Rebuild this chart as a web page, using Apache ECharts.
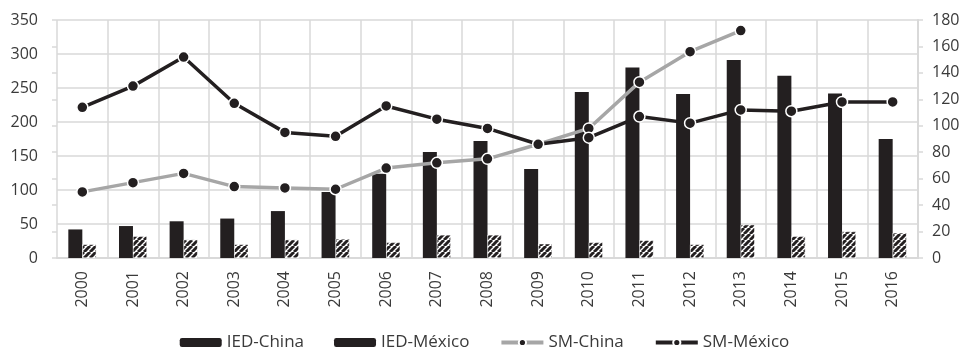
<!DOCTYPE html>
<html>
<head>
<meta charset="utf-8">
<script src="https://cdn.jsdelivr.net/npm/echarts@6/dist/echarts.min.js"></script>
<style>
  html, body { margin: 0; padding: 0; background: #fff; }
  #chart { width: 969px; height: 352px; }
</style>
</head>
<body>
<div id="chart"></div>
<script>
const years = ['2000', '2001', '2002', '2003', '2004', '2005', '2006', '2007', '2008',
  '2009', '2010', '2011', '2012', '2013', '2014', '2015', '2016'];
const iedChina = [42, 47, 54, 58, 69, 97, 124, 156, 172, 131, 244, 280, 241, 291, 268, 242, 175];
const iedMexico = [20, 32, 27, 20, 27, 28, 23, 34, 34, 21, 23, 26, 20, 49, 32, 39, 37];
const smChina = [50, 57, 64, 54, 53, 52, 68, 72, 75, 86, 98, 133, 156, 172, null, null, null];
const smMexico = [114, 130, 152, 117, 95, 92, 115, 105, 98, 86, 91, 107, 102, 112, 111, 118, 118];

const dark = '#231f20';
const gridColor = '#d9d9d9';
const textColor = '#3a3a3a';

// patrón rayado para IED-México
function hatch() {
  const c = document.createElement('canvas');
  c.width = 6;
  c.height = 6;
  const ctx = c.getContext('2d');
  ctx.fillStyle = '#fff';
  ctx.fillRect(0, 0, 6, 6);
  ctx.strokeStyle = dark;
  ctx.lineWidth = 3;
  for (const k of [0, 6, 12]) {
    ctx.beginPath();
    ctx.moveTo(k - 6, 6);
    ctx.lineTo(k, 0);
    ctx.stroke();
  }
  return c;
}

const chart = echarts.init(document.getElementById('chart'));
chart.setOption({
  animation: false,
  textStyle: { fontFamily: 'Open Sans', color: textColor },
  grid: { left: 57, right: 51, top: 20, bottom: 94 },
  legend: {
    bottom: -4,
    left: 'center',
    itemWidth: 42,
    itemHeight: 9,
    itemGap: 30,
    textStyle: { fontSize: 17, color: textColor },
    data: [
      { name: 'IED-China' },
      { name: 'IED-México', itemStyle: { color: dark, borderWidth: 0 } },
      { name: 'SM-China', lineStyle: { width: 4 } },
      { name: 'SM-México', lineStyle: { width: 4 } }
    ]
  },
  xAxis: {
    type: 'category',
    data: years,
    axisLine: { lineStyle: { color: gridColor, width: 2 } },
    axisTick: { show: false },
    axisLabel: { rotate: 90, fontSize: 16, color: textColor, margin: 13 },
    splitLine: { show: true, lineStyle: { color: gridColor, width: 1.5 } }
  },
  yAxis: [
    {
      type: 'value', min: 0, max: 350, interval: 50,
      axisLine: { show: false },
      axisTick: { show: false },
      axisLabel: { fontSize: 16, color: textColor, margin: 19 },
      splitLine: { lineStyle: { color: gridColor, width: 1.5 } }
    },
    {
      type: 'value', min: 0, max: 180, interval: 20, position: 'right',
      axisLine: { show: true, lineStyle: { color: gridColor, width: 2 } },
      axisTick: { show: true, length: 5, lineStyle: { color: gridColor, width: 1.5 } },
      axisLabel: { fontSize: 16, color: textColor, margin: 14 },
      splitLine: { show: false }
    },
    {
      type: 'value', min: 0, max: 180, interval: 20, position: 'left',
      axisLine: { show: false },
      axisTick: { show: true, length: 5, lineStyle: { color: gridColor, width: 1.5 } },
      axisLabel: { show: false },
      splitLine: { show: false }
    }
  ],
  series: [
    {
      name: 'IED-China', type: 'bar', yAxisIndex: 0, data: iedChina,
      barWidth: 14, barGap: '0%',
      itemStyle: { color: dark }
    },
    {
      name: 'IED-México', type: 'bar', yAxisIndex: 0, data: iedMexico,
      barWidth: 14,
      itemStyle: { color: { image: hatch(), repeat: 'repeat' }, borderColor: '#fff', borderWidth: 0.5 }
    },
    {
      name: 'SM-China', type: 'line', yAxisIndex: 1, data: smChina,
      symbol: 'circle', symbolSize: 11,
      lineStyle: { color: '#a6a6a6', width: 3.5 },
      itemStyle: { color: dark, borderColor: '#fff', borderWidth: 1.5 },
      z: 3
    },
    {
      name: 'SM-México', type: 'line', yAxisIndex: 1, data: smMexico,
      symbol: 'circle', symbolSize: 11,
      lineStyle: { color: dark, width: 3.5 },
      itemStyle: { color: dark, borderColor: '#fff', borderWidth: 1.5 },
      z: 4
    }
  ]
});
window.onresize = function () {
  chart.resize();
};
</script>
</body>
</html>
